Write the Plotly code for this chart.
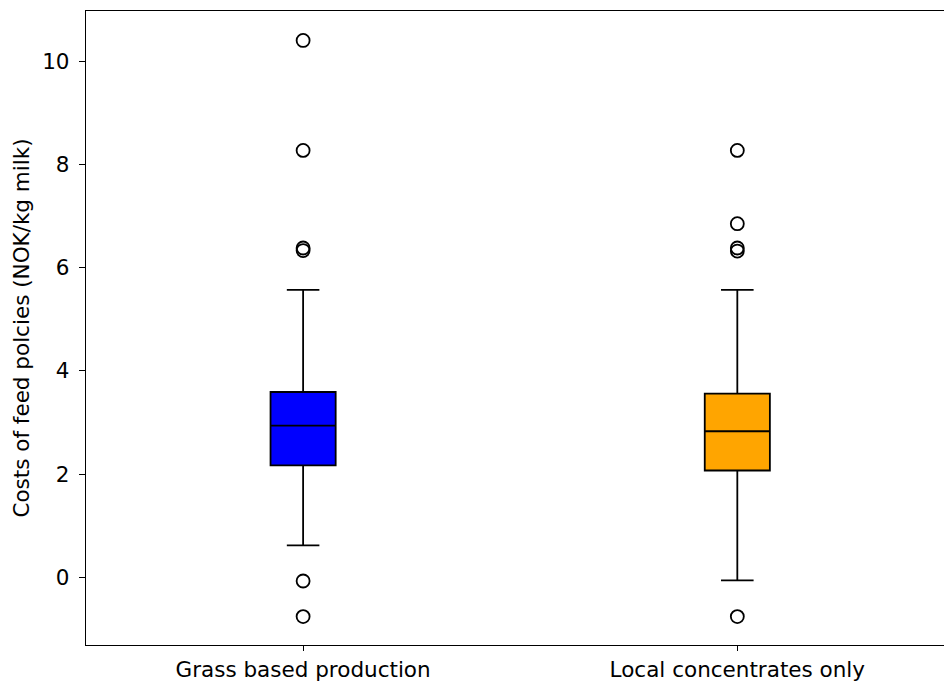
import plotly.graph_objects as go

categories = ["Grass based production", "Local concentrates only"]
positions = [1, 2]
colors = ["#0000ff", "#ffa500"]

q1 = [2.17, 2.07]
median = [2.94, 2.83]
q3 = [3.59, 3.56]
lower_whisker = [0.62, -0.06]
upper_whisker = [5.57, 5.57]

outliers = [
    [10.40, 8.27, 6.38, 6.33, -0.07, -0.76],
    [8.27, 6.85, 6.38, 6.32, -0.76],
]

y_ticks = [0, 2, 4, 6, 8, 10]

FONT = "DejaVu Sans"
FS = 21.5

fig = go.Figure()
for i in range(len(categories)):
    fig.add_trace(go.Box(
        x=[positions[i]],
        q1=[q1[i]], median=[median[i]], q3=[q3[i]],
        lowerfence=[lower_whisker[i]], upperfence=[upper_whisker[i]],
        width=0.15, whiskerwidth=0.5,
        fillcolor=colors[i],
        line=dict(color="black", width=1.8),
        boxpoints=False,
        showlegend=False,
        hoverinfo="skip",
    ))
    fig.add_trace(go.Scatter(
        x=[positions[i]] * len(outliers[i]),
        y=outliers[i],
        mode="markers",
        marker=dict(symbol="circle-open", size=13, color="black",
                    line=dict(width=1.8, color="black")),
        showlegend=False,
        hoverinfo="skip",
    ))

fig.update_layout(
    width=944, height=681,
    margin=dict(l=86, r=0, t=11, b=36),
    paper_bgcolor="white", plot_bgcolor="white",
    font=dict(family=FONT, size=FS, color="black"),
    showlegend=False,
)
fig.update_xaxes(
    range=[0.5, 2.476],
    automargin=False,
    tickmode="array", tickvals=positions, ticktext=categories,
    showgrid=False, zeroline=False,
    showline=True, linecolor="black", linewidth=1.3, mirror=True,
    ticks="outside", ticklen=5, tickwidth=1.3, tickcolor="black",
    tickfont=dict(family=FONT, size=FS, color="black"),
    ticklabelstandoff=0,
)
fig.update_yaxes(
    range=[-1.31, 10.97],
    automargin=False,
    tickmode="array", tickvals=y_ticks, ticktext=[str(v) for v in y_ticks],
    showgrid=False, zeroline=False,
    showline=True, linecolor="black", linewidth=1.3,
    ticks="outside", ticklen=6, tickwidth=1.3, tickcolor="black",
    tickfont=dict(family=FONT, size=FS, color="black"),
    ticklabelstandoff=5,
    title=dict(text="Costs of feed polcies (NOK/kg milk)",
               font=dict(family=FONT, size=FS, color="black"), standoff=6),
)

fig.write_html("out.html")
